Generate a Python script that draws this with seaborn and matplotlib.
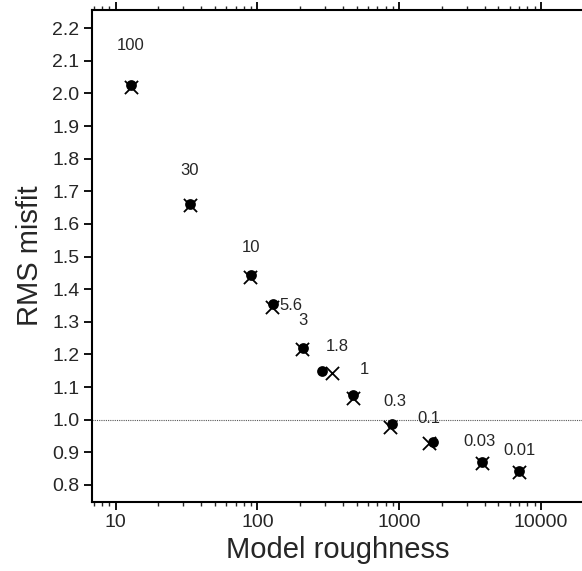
import numpy as np
import pandas as pd
import matplotlib
matplotlib.use("Agg")
import matplotlib.pyplot as plt
import seaborn as sns
from matplotlib.ticker import LogLocator, FixedLocator, NullFormatter

# Regularisation parameter labels and results
lambdas = ["100", "30", "10", "5.6", "3", "1.8", "1", "0.3", "0.1", "0.03", "0.01"]
rough_circle = [12.8, 33.4, 90, 129, 210, 287, 475, 883, 1720, 3830, 7000]
misfit_circle = [2.025, 1.661, 1.443, 1.354, 1.220, 1.149, 1.076, 0.987, 0.932, 0.870, 0.842]
rough_cross = [12.8, 33.4, 89, 127, 207, 333, 470, 860, 1615, 3830, 7000]
misfit_cross = [2.019, 1.658, 1.437, 1.345, 1.216, 1.143, 1.066, 0.978, 0.929, 0.868, 0.840]
yticks = [0.8, 0.9, 1.0, 1.1, 1.2, 1.3, 1.4, 1.5, 1.6, 1.7, 1.8, 1.9, 2.0, 2.1, 2.2]
xticks = [10, 100, 1000, 10000]

# label offsets (points) relative to the circle markers
label_offsets = [(0, 29), (0, 24), (0, 20), (13, -1), (0, 20), (11, 18), (8, 18), (2, 16), (-3, 17), (-2, 15), (0, 15)]

sns.set_style("ticks")
plt.rcParams["font.family"] = ["Liberation Sans", "DejaVu Sans"]

df_c = pd.DataFrame({"roughness": rough_circle, "misfit": misfit_circle})
df_x = pd.DataFrame({"roughness": rough_cross, "misfit": misfit_cross})

fig = plt.figure(figsize=(5.82, 5.71), dpi=100)
ax = fig.add_axes([0.158, 0.121, 0.845, 0.861])

ax.axhline(1.0, color="#555555", linestyle=(0, (1, 1)), linewidth=0.8, zorder=1)

sns.scatterplot(data=df_c, x="roughness", y="misfit", ax=ax, marker="o",
                s=60, color="black", edgecolor="black", linewidth=0, zorder=3)
sns.scatterplot(data=df_x, x="roughness", y="misfit", ax=ax, marker="x",
                s=90, color="black", linewidth=1.3, zorder=4)

for lab, x, y, off in zip(lambdas, rough_circle, misfit_circle, label_offsets):
    ax.annotate(lab, (x, y), xytext=off, textcoords="offset points",
                ha="center", va="center", fontsize=12)

ax.set_xscale("log")
ax.set_xlim(6.8, 20000)
ax.set_ylim(0.748, 2.255)
ax.yaxis.set_major_locator(FixedLocator(yticks))
ax.set_yticklabels([f"{v:.1f}" for v in yticks])
ax.xaxis.set_minor_locator(LogLocator(base=10, subs=np.arange(2, 10), numticks=10))
ax.xaxis.set_minor_formatter(NullFormatter())
ax.set_xticks(xticks)
ax.set_xticklabels([str(v) for v in xticks])

ax.tick_params(axis="both", which="major", direction="out", length=6, width=1.3,
               labelsize=14, color="black", pad=3)
ax.tick_params(axis="x", which="minor", direction="out", length=3, width=1.0)
ax.tick_params(axis="x", which="both", top=True)
ax.tick_params(axis="y", which="both", right=False)

for side in ["left", "bottom", "top", "right"]:
    ax.spines[side].set_linewidth(1.5)
    ax.spines[side].set_color("black")

ax.set_xlabel("Model roughness", fontsize=21, labelpad=3)
ax.set_ylabel("RMS misfit", fontsize=21, labelpad=6)

fig.savefig("out.png", dpi=100)
